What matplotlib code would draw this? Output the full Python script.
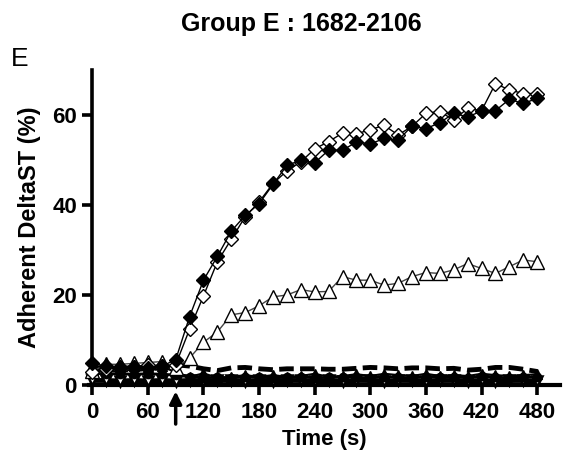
import numpy as np
import matplotlib
matplotlib.use("Agg")
import matplotlib.pyplot as plt

plt.rcParams['font.family'] = ['Liberation Sans', 'DejaVu Sans']

time_s = np.arange(0, 481, 15)

# filled diamonds
filled_diamond = [4.8, 4.2, 4.0, 4.0, 3.8, 4.2, 5.6, 15.2, 23.3, 28.6, 34.2, 37.7,
                  40.3, 44.6, 48.8, 50.0, 49.4, 52.2, 52.2, 54.0, 53.6, 54.8, 54.4,
                  57.6, 57.0, 58.3, 60.4, 59.6, 60.9, 61.0, 63.5, 62.6, 63.7]
# open diamonds
open_diamond = [2.8, 3.5, 3.8, 4.0, 4.5, 4.2, 4.5, 12.4, 19.8, 27.4, 32.4, 37.4,
                40.7, 44.8, 47.6, 49.6, 52.5, 54.1, 56.0, 55.8, 56.8, 57.7, 55.6,
                57.5, 60.4, 60.8, 58.9, 61.5, 61.0, 67.0, 65.6, 64.8, 64.8]
# open triangles up
open_triangle = [3.0, 4.6, 4.6, 4.8, 5.0, 5.2, 3.7, 6.0, 9.5, 11.8, 15.6, 16.1,
                 17.6, 19.6, 20.0, 21.2, 20.7, 20.8, 24.1, 23.3, 23.3, 22.2, 22.6,
                 24.1, 25.0, 24.8, 25.6, 27.0, 25.9, 24.8, 26.3, 27.8, 27.4]
# thick dashed line
dashed = [3.5, 3.5, 3.5, 3.5, 3.6, 3.8, 4.5, 4.2, 3.6, 3.2, 3.8, 3.9, 3.6, 3.4,
          3.6, 3.6, 3.6, 3.5, 3.5, 3.7, 3.9, 3.8, 3.6, 3.8, 3.8, 3.6, 3.7, 3.3,
          3.5, 3.9, 3.9, 3.5, 3.0]
# filled triangles up
filled_triangle = [4.2, 4.0, 4.0, 4.2, 3.9, 4.2, 2.8, 1.8, 2.6, 1.6, 1.8, 2.2, 1.8,
                   2.2, 1.8, 2.0, 2.5, 1.8, 2.0, 2.4, 2.0, 2.5, 2.2, 2.0, 2.5, 2.0,
                   2.2, 2.0, 2.5, 2.2, 2.0, 2.2, 2.4]
# filled circles
filled_circle = [2.6, 2.5, 2.5, 2.4, 2.5, 2.4, 2.2, 1.8, 1.6, 1.7, 1.6, 1.8, 1.7,
                 1.6, 1.7, 1.8, 1.6, 1.7, 1.8, 1.7, 1.6, 1.8, 1.7, 1.6, 1.8, 1.7,
                 1.8, 1.6, 1.9, 1.7, 1.6, 1.8, 1.7]
# open triangles down
open_down = [1.0, 1.0, 0.9, 1.0, 0.9, 1.0, 0.9, 1.0, 0.9, 1.0, 1.0, 0.9, 1.0, 0.9,
             1.0, 1.0, 0.9, 1.0, 0.9, 1.0, 1.0, 0.9, 1.0, 1.0, 0.9, 1.0, 1.0, 0.9,
             1.0, 0.9, 1.0, 1.0, 0.9]

xticks = [0, 60, 120, 180, 240, 300, 360, 420, 480]
yticks = [0, 20, 40, 60]

fig = plt.figure(figsize=(5.64, 4.62), dpi=100)
ax = fig.add_axes([0.157, 0.1667, 0.8365, 0.6815])

ax.plot(time_s, open_down, color='black', lw=3.5, marker='v', ms=7,
        mfc='white', mec='black', mew=1.8, clip_on=False, zorder=3)
ax.plot(time_s, filled_circle, color='black', lw=2, marker='o', ms=6,
        mfc='black', mec='black', clip_on=False, zorder=3)
ax.plot(time_s, filled_triangle, color='black', lw=1.5, marker='^', ms=7,
        mfc='black', mec='black', clip_on=False, zorder=3)
ax.plot(time_s, dashed, color='black', lw=3.5, ls=(0, (3, 1.3)), zorder=3)
ax.plot(time_s, open_triangle, color='#444444', lw=1, marker='^', ms=10,
        mfc='white', mec='black', mew=1, clip_on=False, zorder=4)
ax.plot(time_s, open_diamond, color='black', lw=1, marker='D', ms=7.5,
        mfc='white', mec='black', mew=1, clip_on=False, zorder=5)
ax.plot(time_s, filled_diamond, color='black', lw=1, marker='D', ms=7.5,
        mfc='black', mec='black', mew=1, clip_on=False, zorder=6)

ax.set_xlim(-4, 505)
ax.set_ylim(0, 70)
ax.spines['left'].set_position(('data', 0))
ax.spines['top'].set_visible(False)
ax.spines['right'].set_visible(False)
ax.spines['left'].set_linewidth(2.6)
ax.spines['bottom'].set_linewidth(3)
ax.set_xticks(xticks)
ax.set_yticks(yticks)
ax.tick_params(width=2.6, length=7.5, labelsize=16)
ax.tick_params(axis='x', pad=5)
for lab in ax.get_xticklabels() + ax.get_yticklabels():
    lab.set_fontweight('bold')

ax.set_xlabel('Time (s)', fontsize=16, fontweight='bold', labelpad=4)
ax.set_ylabel('Adherent DeltaST (%)', fontsize=17, fontweight='bold', labelpad=8)

# injection arrow
ax.annotate('', xy=(90, -0.8), xytext=(90, -9.3), annotation_clip=False,
            arrowprops=dict(arrowstyle='-|>', lw=2.5, color='black',
                            mutation_scale=18))

fig.text(0.535, 0.948, 'Group E : 1682-2106', ha='center', va='center',
         fontsize=18, fontweight='bold')
fig.text(0.02, 0.873, 'E', ha='left', va='center', fontsize=19)

fig.savefig('out.png', dpi=100)
